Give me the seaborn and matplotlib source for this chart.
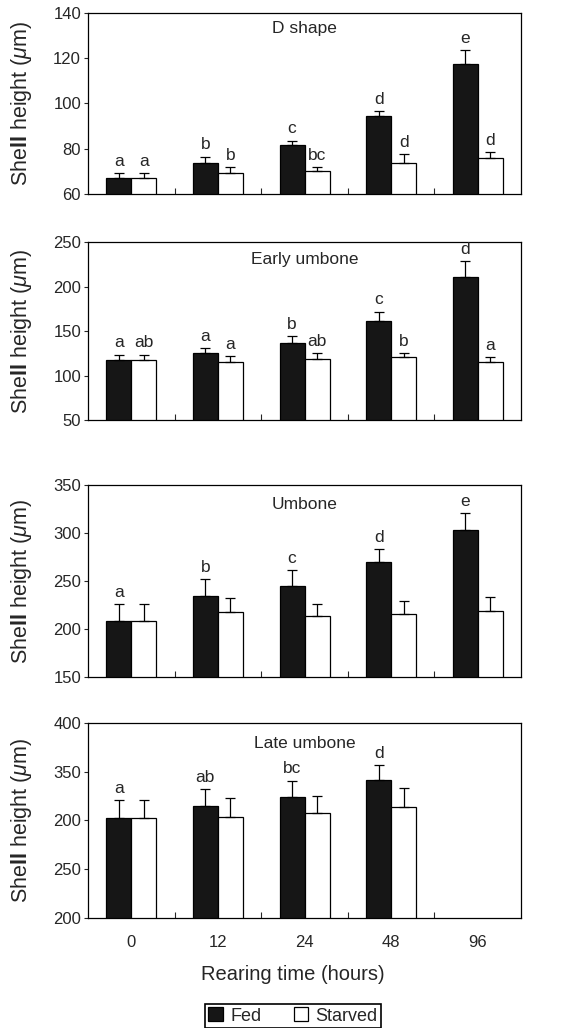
import numpy as np
import pandas as pd
import matplotlib
matplotlib.use("Agg")
import matplotlib.pyplot as plt
import seaborn as sns

# data
times = ["0", "12", "24", "48", "96"]
groups = ["Fed", "Starved"]

d_fed = [67.1, 73.8, 81.5, 94.3, 117.4]
d_fed_err = [2.2, 2.7, 2.1, 2.5, 6.1]
d_starved = [67.1, 69.1, 70.2, 73.8, 75.8]
d_starved_err = [2.2, 2.7, 1.6, 4.0, 2.6]
d_fed_letters = ["a", "b", "c", "d", "e"]
d_starved_letters = ["a", "b", "bc", "d", "d"]

early_fed = [117.3, 124.9, 136.9, 161.8, 211.1]
early_fed_err = [6.3, 5.6, 7.5, 10.1, 17.6]
early_starved = [117.3, 114.7, 118.8, 120.3, 114.7]
early_starved_err = [6.3, 7.1, 6.0, 4.5, 5.6]
early_fed_letters = ["a", "a", "b", "c", "d"]
early_starved_letters = ["ab", "a", "ab", "b", "a"]

umb_fed = [208.1, 234.2, 245.0, 270.0, 303.0]
umb_fed_err = [18.0, 17.7, 16.4, 13.2, 17.7]
umb_starved = [208.1, 217.8, 213.3, 215.7, 219.2]
umb_starved_err = [18.0, 14.6, 12.9, 13.9, 14.6]
umb_fed_letters = ["a", "b", "c", "d", "e"]
umb_starved_letters = ["", "", "", "", ""]

late_fed = [302.9, 314.9, 324.5, 341.3, np.nan]
late_fed_err = [17.9, 17.5, 16.5, 15.8, np.nan]
late_starved = [302.9, 303.9, 307.4, 313.6, np.nan]
late_starved_err = [17.9, 18.9, 18.2, 20.2, np.nan]
late_fed_letters = ["a", "ab", "bc", "d", ""]
late_starved_letters = ["", "", "", "", ""]

panels = [
    ("D shape", d_fed, d_fed_err, d_starved, d_starved_err,
     d_fed_letters, d_starved_letters, (60, 140), [60, 80, 100, 120, 140],
     ["60", "80", "100", "120", "140"]),
    ("Early umbone", early_fed, early_fed_err, early_starved, early_starved_err,
     early_fed_letters, early_starved_letters, (50, 250), [50, 100, 150, 200, 250],
     ["50", "100", "150", "200", "250"]),
    ("Umbone", umb_fed, umb_fed_err, umb_starved, umb_starved_err,
     umb_fed_letters, umb_starved_letters, (150, 350), [150, 200, 250, 300, 350],
     ["150", "200", "250", "300", "350"]),
    ("Late umbone", late_fed, late_fed_err, late_starved, late_starved_err,
     late_fed_letters, late_starved_letters, (200, 400), [200, 250, 300, 350, 400],
     ["200", "250", "200", "350", "400"]),
]

sns.set_style("ticks")
plt.rcParams["font.family"] = ["Liberation Sans", "DejaVu Sans"]
plt.rcParams["mathtext.fontset"] = "custom"
plt.rcParams["mathtext.rm"] = "Liberation Sans"
plt.rcParams["mathtext.it"] = "Liberation Sans:italic"
plt.rcParams["mathtext.bf"] = "Liberation Sans:bold"

fig = plt.figure(figsize=(5.86, 10.28), dpi=100)
rects = [
    [0.1502, 0.8113, 0.739, 0.1761],
    [0.1502, 0.5914, 0.739, 0.1732],
    [0.1502, 0.3414, 0.739, 0.1868],
    [0.1502, 0.1070, 0.739, 0.1897],
]
title_y = [0.912, 0.899, 0.901, 0.897]

handles, labels = None, None
for i, (title, fed, fed_err, stv, stv_err, fl, sl, ylim, yt, ytl) in enumerate(panels):
    ax = fig.add_axes(rects[i])
    df = pd.DataFrame({
        "time": times * 2,
        "group": ["Fed"] * 5 + ["Starved"] * 5,
        "height": list(fed) + list(stv),
    })
    errs = {"Fed": fed_err, "Starved": stv_err}
    lets = {"Fed": fl, "Starved": sl}
    sns.barplot(data=df, x="time", y="height", hue="group", order=times,
                hue_order=groups, palette={"Fed": "#161616", "Starved": "white"},
                edgecolor="black", linewidth=0.9, width=0.578, gap=0,
                errorbar=None, legend=(i == 3), ax=ax)
    for g, cont in zip(groups, ax.containers):
        for p in cont.patches:
            h = p.get_height()
            if np.isnan(h):
                continue
            xc = p.get_x() + p.get_width() / 2
            k = int(round(xc))
            e = errs[g][k]
            ax.errorbar(xc, h, yerr=[[0], [e]], fmt="none", ecolor="black",
                        elinewidth=0.9, capsize=3.5, capthick=0.9)
            if lets[g][k]:
                ax.annotate(lets[g][k], (xc, h + e), xytext=(0, 3),
                            textcoords="offset points", ha="center", va="bottom",
                            fontsize=12.5)
    ax.set_ylim(*ylim)
    ax.set_xlim(-0.5, 4.5)
    ax.set_yticks(yt)
    ax.set_yticklabels(ytl, fontsize=12)
    ax.tick_params(axis="y", length=3, width=0.8, pad=2)
    ax.set_xticks(range(5))
    ax.set_xticks([0.5, 1.5, 2.5, 3.5], minor=True)
    ax.tick_params(axis="x", which="major", length=0, pad=12)
    ax.tick_params(axis="x", which="minor", direction="in", length=4, width=0.8)
    if i == 3:
        ax.set_xticklabels(times, fontsize=12)
        handles, labels = ax.get_legend_handles_labels()
        ax.get_legend().remove()
    else:
        ax.set_xticklabels([])
    ax.set_xlabel("")
    ax.set_ylabel(r"She$\mathbf{ll}$ height ($\mu$m)", fontsize=15.5)
    ax.yaxis.set_label_coords(-0.125, 0.5)
    for s in ax.spines.values():
        s.set_visible(True)
        s.set_linewidth(0.9)
        s.set_color("black")
    ax.text(0.5, title_y[i], title, transform=ax.transAxes, ha="center",
            va="center", fontsize=12.5)

fig.text(0.5, 0.0516, "Rearing time (hours)", ha="center", va="center", fontsize=14.5)
leg = fig.legend(handles, labels, loc="lower center", bbox_to_anchor=(0.5, -0.002),
                 ncol=2, fontsize=13, frameon=True, fancybox=False, framealpha=1,
                 handlelength=0.8, handleheight=0.8, handletextpad=0.4,
                 columnspacing=1.8, borderpad=0.2, borderaxespad=0.1)
leg.get_frame().set_edgecolor("black")
leg.get_frame().set_linewidth(1.2)

fig.savefig("out.png", dpi=100)
